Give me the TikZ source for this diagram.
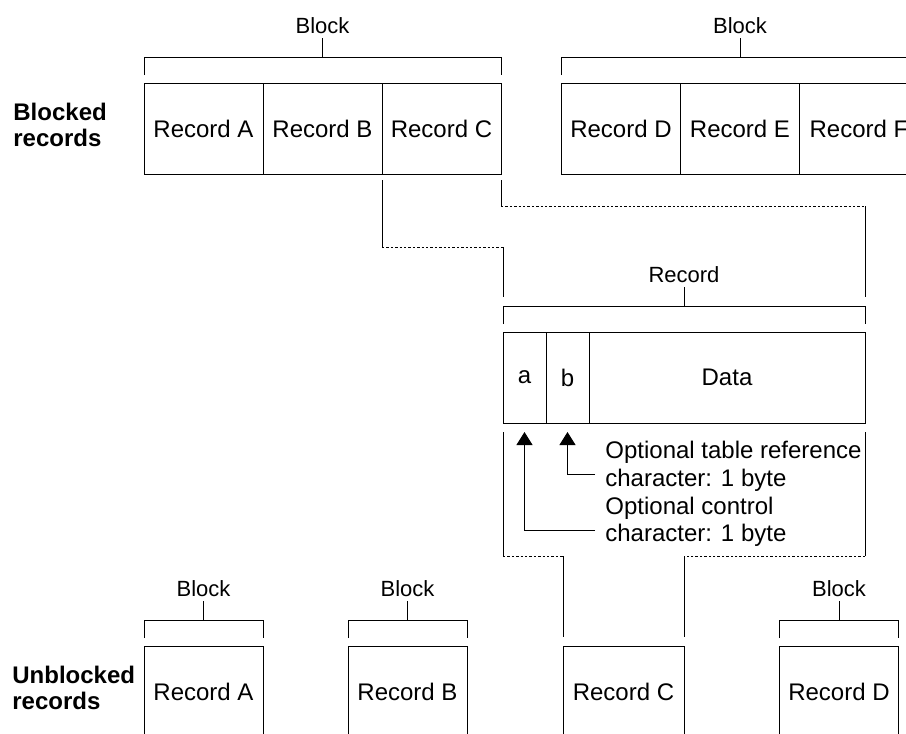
\documentclass[tikz,border=0pt]{standalone}
\usepackage{fontspec}
\setmainfont{Liberation Sans}
\usetikzlibrary{positioning,calc,arrows.meta}

\tikzset{
  thinline/.style={line width=.5pt},
  zoomline/.style={line width=.5pt, dash pattern=on 1.2pt off 1pt},
  rec/.style={draw, thinline, inner sep=0pt, outer sep=0pt,
    minimum height=45.5pt, minimum width=59.5pt, font=\fontsize{12}{13}\selectfont},
  cell/.style={rec, minimum width=21.5pt},
  lbl/.style={font=\fontsize{11}{12}\selectfont, inner sep=2pt, anchor=south},
  note/.style={font=\fontsize{12}{13.75}\selectfont, align=left, inner sep=0pt, anchor=north west},
  side/.style={font=\fontsize{12}{13}\selectfont\bfseries, align=left, inner sep=0pt, anchor=west},
  pointer/.style={thinline, -{Triangle[width=8pt,length=6.5pt]}}
}

% bracket over a row of boxes: first box, last box, name, text
\newcommand{\spanmark}[4]{%
  \coordinate (#3w) at ($(#1.north west)+(0,-8)$);
  \coordinate (#3e) at ($(#2.north east)+(0,-8)$);
  \coordinate (#3m) at ($(#3w)!.5!(#3e)+(0,-18)$);
  \draw[thinline] (#3w) -- ++(0,-18) -| (#3e);
  \draw[thinline] (#3m) -- ++(0,-19) node[lbl] (#3) {#4};
}

\begin{document}
\begin{tikzpicture}[x=.5pt,y=-.5pt]
    \useasboundingbox (0,0) rectangle (906,734);
    \clip (0,0) rectangle (906,734);

    %blocked records:
    \node[side] (blocked) at (13,125) {Blocked\\records};
    \node[rec] (tA) at (203.5,128.5) {Record A};
    \node[rec, right=0pt of tA] (tB) {Record B};
    \node[rec, right=0pt of tB] (tC) {Record C};
    \node[rec] (tD) at (621,128.5) {Record D};
    \node[rec, right=0pt of tD] (tE) {Record E};
    \node[rec, right=0pt of tE] (tF) {Record F};
    \spanmark{tA}{tC}{blk1}{Block}
    \spanmark{tD}{tF}{blk2}{Block}

    %one record:
    \node[cell] (fa) at (524.5,377.5) {a};
    \node[cell, right=0pt of fa] (fb) {b};
    \node[rec, minimum width=138pt, right=0pt of fb] (fdata) {Data};
    \spanmark{fa}{fdata}{recspan}{Record}

    %zoom lines from Record C:
    \draw[thinline] ($(tC.south west)+(0,6)$) -- ++(0,67) coordinate (zl);
    \draw[zoomline] (zl) -- (zl -| fa.west) coordinate (zl2);
    \draw[thinline] (zl2) -- ++(0,50);
    \draw[thinline] ($(tC.south east)+(0,6)$) -- ++(0,26) coordinate (zr);
    \draw[zoomline] (zr) -- (zr -| fdata.east) coordinate (zr2);
    \draw[thinline] (zr2) -- ++(0,91);

    %notes:
    \node[note] (reftxt) at (605,441) {Optional table reference\\character: 1 byte};
    \node[note] (ctrltxt) at (605,496.5) {Optional control\\character: 1 byte};
    \draw[pointer] ($(reftxt.south west)+(-10,-17)$) -| ($(fb.south)+(0,9)$);
    \draw[pointer] ($(ctrltxt.south west)+(-10,-17)$) -| ($(fa.south)+(0,9)$);

    %unblocked records:
    \node[side] (unblocked) at (12,688) {Unblocked\\records};
    \node[rec] (bA) at (203.5,691.5) {Record A};
    \node[rec] (bB) at (407.5,691.5) {Record B};
    \node[rec, minimum width=60.5pt] (bC) at (623.5,691.5) {Record C};
    \node[rec] (bD) at (839,691.5) {Record D};
    \spanmark{bA}{bA}{blk3}{Block}
    \spanmark{bB}{bB}{blk4}{Block}
    \spanmark{bD}{bD}{blk5}{Block}

    %zoom lines to Record C:
    \draw[thinline] ($(fa.south west)+(0,9)$) -- ++(0,124) coordinate (bl);
    \draw[zoomline] (bl) -- (bl -| bC.west) coordinate (bl2);
    \draw[thinline] (bl2) -- ($(bC.north west)+(0,-9)$);
    \draw[thinline] ($(fdata.south east)+(0,9)$) -- ++(0,124) coordinate (br);
    \draw[zoomline] (br) -- (br -| bC.east) coordinate (br2);
    \draw[thinline] (br2) -- ($(bC.north east)+(0,-9)$);

\end{tikzpicture}
\end{document}
